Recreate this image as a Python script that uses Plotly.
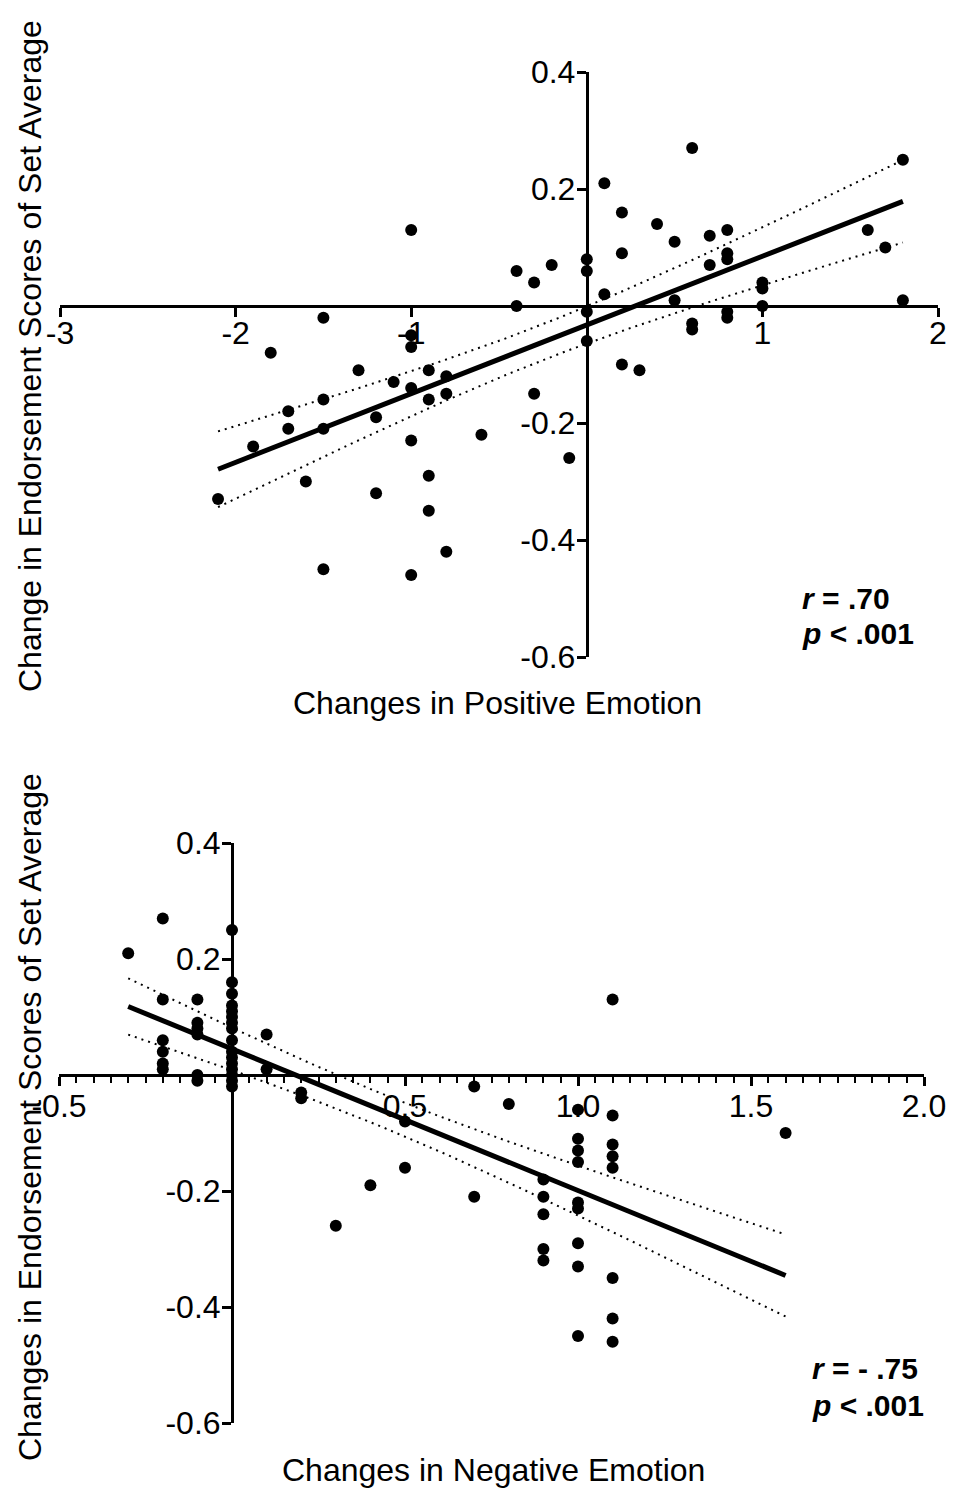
import numpy as np
import plotly.graph_objects as go

W, H = 955, 1488
FONT = "Liberation Sans, Arial, sans-serif"

# ---- Top panel: Changes in Positive Emotion ----
pos_x = [-1.0, -0.4, -0.3, -0.2, 0.0, 0.0, -0.4, -1.5, 0.0, -1.8, -1.0, -1.0, -1.3, -0.9,
         -0.8, -1.1, -1.0, -0.8, -0.9, -1.5, -1.7, -1.2, -1.7, -1.5, -0.6, -1.0, -1.9, -0.1,
         -0.9, -1.6, -2.1, -1.2, -0.9, -0.8, -1.5, -1.0, 0.0, -0.3, 0.6, 1.8, 0.1, 0.2,
         0.4, 0.5, 0.7, 0.8, 1.6, 1.7, 0.2, 0.8, 0.8, 0.7, 0.1, 0.5, 1.0, 1.0, 1.0, 1.8,
         0.8, 0.8, 0.6, 0.6, 0.2, 0.3]
pos_y = [0.13, 0.06, 0.04, 0.07, 0.08, 0.06, 0.00, -0.02, -0.01, -0.08, -0.05, -0.07, -0.11, -0.11,
         -0.12, -0.13, -0.14, -0.15, -0.16, -0.16, -0.18, -0.19, -0.21, -0.21, -0.22, -0.23, -0.24, -0.26,
         -0.29, -0.30, -0.33, -0.32, -0.35, -0.42, -0.45, -0.46, -0.06, -0.15, 0.27, 0.25, 0.21, 0.16,
         0.14, 0.11, 0.12, 0.13, 0.13, 0.10, 0.09, 0.09, 0.08, 0.07, 0.02, 0.01, 0.04, 0.03, 0.00, 0.01,
         -0.01, -0.02, -0.03, -0.04, -0.10, -0.11]

# ---- Bottom panel: Changes in Negative Emotion ----
neg_x = [-0.3,
         -0.2, -0.2, -0.2, -0.2, -0.2, -0.2,
         -0.1, -0.1, -0.1, -0.1, -0.1, -0.1,
         0.0, 0.0, 0.0, 0.0, 0.0, 0.0, 0.0, 0.0, 0.0, 0.0, 0.0, 0.0, 0.0, 0.0, 0.0, 0.0,
         0.1, 0.1, 0.2, 0.2, 0.3, 0.4, 0.5, 0.5, 0.7, 0.7, 0.8,
         0.9, 0.9, 0.9, 0.9, 0.9,
         1.0, 1.0, 1.0, 1.0, 1.0, 1.0, 1.0, 1.0, 1.0,
         1.1, 1.1, 1.1, 1.1, 1.1, 1.1, 1.1, 1.1,
         1.6]
neg_y = [0.21,
         0.27, 0.13, 0.06, 0.04, 0.02, 0.01,
         0.13, 0.09, 0.08, 0.07, 0.00, -0.01,
         0.25, 0.16, 0.14, 0.12, 0.11, 0.10, 0.09, 0.08, 0.06, 0.04, 0.03, 0.02, 0.01, 0.00, -0.01, -0.02,
         0.07, 0.01, -0.03, -0.04, -0.26, -0.19, -0.08, -0.16, -0.02, -0.21, -0.05,
         -0.18, -0.21, -0.24, -0.30, -0.32,
         -0.06, -0.11, -0.13, -0.15, -0.22, -0.23, -0.29, -0.33, -0.45,
         0.13, -0.07, -0.12, -0.14, -0.16, -0.35, -0.42, -0.46,
         -0.10]

top_xticks = [-3, -2, -1, 1, 2]
top_xtext = ["-3", "-2", "-1", "1", "2"]
bot_xticks = [-0.5, 0.5, 1.0, 1.5, 2.0]
bot_xtext = ["-0.5", "0.5", "1.0", "1.5", "2.0"]
yticks = [0.4, 0.2, -0.2, -0.4, -0.6]
ytext = ["0.4", "0.2", "-0.2", "-0.4", "-0.6"]

top_xrange = [-3, 2]
bot_xrange = [-0.5, 2.0]
yrange = [-0.6, 0.4]


def fit(x, y, t=2.0):
    x = np.asarray(x, float)
    y = np.asarray(y, float)
    n = len(x)
    b, a = np.polyfit(x, y, 1)
    xs = np.linspace(x.min(), x.max(), 120)
    yh = a + b * xs
    res = y - (a + b * x)
    s = np.sqrt(np.sum(res ** 2) / (n - 2))
    sxx = np.sum((x - x.mean()) ** 2)
    se = s * np.sqrt(1.0 / n + (xs - x.mean()) ** 2 / sxx)
    return xs, yh, yh - t * se, yh + t * se


fig = go.Figure()


def add_panel(px, py, xa, ya):
    xs, yh, lo, hi = fit(px, py)
    for band in (lo, hi):
        fig.add_trace(go.Scatter(x=xs, y=band, mode="lines", xaxis=xa, yaxis=ya,
                                 line=dict(color="black", width=2, dash="2px,5px"),
                                 hoverinfo="skip", showlegend=False))
    fig.add_trace(go.Scatter(x=xs, y=yh, mode="lines", xaxis=xa, yaxis=ya,
                             line=dict(color="black", width=5), showlegend=False))
    fig.add_trace(go.Scatter(x=px, y=py, mode="markers", xaxis=xa, yaxis=ya,
                             marker=dict(color="black", size=12), showlegend=False))


add_panel(pos_x, pos_y, "x", "y")
add_panel(neg_x, neg_y, "x2", "y2")

# domains (paper)
t_xd = [60 / W, 938 / W]
t_yd = [1 - 657 / H, 1 - 72 / H]
b_xd = [59 / W, 924 / W]
b_yd = [1 - 1423 / H, 1 - 843 / H]


def frac(v, r):
    return (v - r[0]) / (r[1] - r[0])


t_xpos = t_yd[0] + frac(0, yrange) * (t_yd[1] - t_yd[0])
t_ypos = t_xd[0] + frac(0, top_xrange) * (t_xd[1] - t_xd[0])
b_xpos = b_yd[0] + frac(0, yrange) * (b_yd[1] - b_yd[0])
b_ypos = b_xd[0] + frac(0, bot_xrange) * (b_xd[1] - b_xd[0])

tickfont = dict(family=FONT, size=32, color="black")
common = dict(showgrid=False, zeroline=False, showline=True, linecolor="black", linewidth=3,
              ticks="outside", tickcolor="black", tickwidth=3, tickfont=tickfont,
              tickmode="array", automargin=False, fixedrange=True)

fig.update_layout(
    width=W, height=H, margin=dict(l=0, r=0, t=0, b=0),
    paper_bgcolor="white", plot_bgcolor="white", showlegend=False,
    xaxis=dict(domain=t_xd, range=top_xrange, tickvals=top_xticks, ticktext=top_xtext,
               ticklen=9, ticklabelstandoff=-11, anchor="free", position=t_xpos, **common),
    yaxis=dict(domain=t_yd, range=yrange, tickvals=yticks, ticktext=ytext,
               ticklen=9, ticklabelstandoff=-5, anchor="free", position=t_ypos, **common),
    xaxis2=dict(domain=b_xd, range=bot_xrange, tickvals=bot_xticks, ticktext=bot_xtext,
                ticklen=9, ticklabelstandoff=-7, anchor="free", position=b_xpos,
                minor=dict(tickmode="linear", tick0=0, dtick=0.05, ticks="outside",
                           ticklen=6, tickwidth=2, tickcolor="black"),
                **common),
    yaxis2=dict(domain=b_yd, range=yrange, tickvals=yticks, ticktext=ytext,
                ticklen=9, ticklabelstandoff=-5, anchor="free", position=b_ypos, **common),
)

titlefont = dict(family=FONT, size=32, color="black")
annfont = dict(family=FONT, size=30, color="black")


def ann(text, x, y, font, **kw):
    fig.add_annotation(text=text, x=x / W, y=1 - y / H, xref="paper", yref="paper",
                       showarrow=False, font=font, **kw)


ann("Changes in Positive Emotion", 498, 703, titlefont, xanchor="center", yanchor="middle")
ann("Change in Endorsement Scores of Set Average", 30, 356, titlefont,
    textangle=-90, xanchor="center", yanchor="middle")
ann("Changes in Negative Emotion", 493, 1470, titlefont, xanchor="center", yanchor="middle")
ann("Changes in Endorsement Scores of Set Average", 30, 1117, titlefont,
    textangle=-90, xanchor="center", yanchor="middle")

ann("<b><i>r</i> = .70</b>", 800, 598, annfont, xanchor="left", yanchor="middle")
ann("<b><i>p</i> &lt; .001</b>", 800, 633, annfont, xanchor="left", yanchor="middle")
ann("<b><i>r</i> = - .75</b>", 810, 1368, annfont, xanchor="left", yanchor="middle")
ann("<b><i>p</i> &lt; .001</b>", 810, 1405, annfont, xanchor="left", yanchor="middle")

fig.write_html("out.html", config={"displayModeBar": False},
               post_script="document.body.style.margin='0';")
